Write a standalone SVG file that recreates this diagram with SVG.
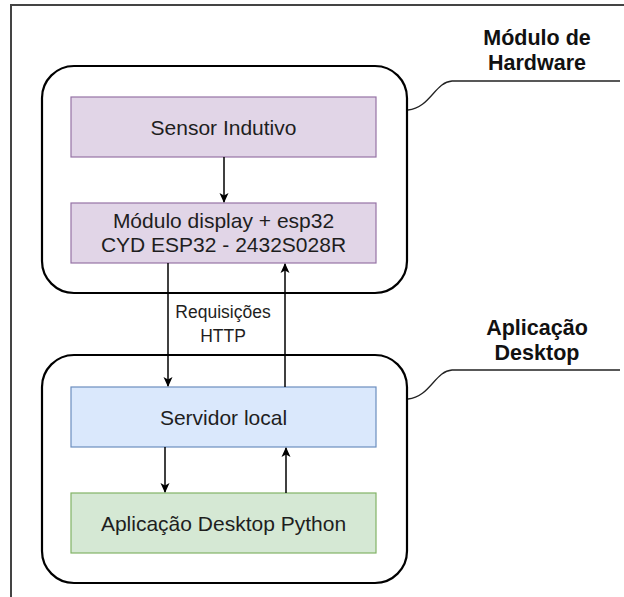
<svg xmlns="http://www.w3.org/2000/svg" width="624" height="597" viewBox="0 0 624 597">
  <defs>
    <marker id="arrow" viewBox="0 0 10 10" refX="9" refY="5" markerWidth="10" markerHeight="10" markerUnits="userSpaceOnUse" orient="auto">
      <path d="M0,0.5 L10,5 L0,9.5 L2.5,5 Z" fill="#000"/>
    </marker>
    <style>
      .frame { fill: none; stroke: #444; stroke-width: 2; }
      .container { fill: #fff; stroke: #000; stroke-width: 2.2; }
      .purple { fill: #e1d5e7; stroke: #9673a6; stroke-width: 1.2; }
      .blue { fill: #dae8fc; stroke: #6c8ebf; stroke-width: 1.2; }
      .green { fill: #d5e8d4; stroke: #82b366; stroke-width: 1.2; }
      .label { font-family: "Liberation Sans", Arial, sans-serif; font-size: 21px; fill: #1e1e1e; text-anchor: middle; }
      .small { font-family: "Liberation Sans", Arial, sans-serif; font-size: 17.5px; fill: #1e1e1e; text-anchor: middle; }
      .title { font-family: "Liberation Sans", Arial, sans-serif; font-size: 21.5px; font-weight: bold; fill: #111; text-anchor: middle; }
      .edge { fill: none; stroke: #000; stroke-width: 1.5; marker-end: url(#arrow); }
      .callout { fill: none; stroke: #222; stroke-width: 1.3; }
    </style>
  </defs>

  <rect width="624" height="597" fill="#fff"/>

  <!-- page frame -->
  <path class="frame" d="M11,597 V5 H624"/>

  <!-- hardware module container -->
  <g id="hardware-module">
    <rect class="container" x="42" y="66" width="365" height="227" rx="32" ry="32"/>
    <path class="callout" d="M408,110 C430,108 435,82 452,81 H620"/>
    <text class="title" x="537" y="45">Módulo de</text>
    <text class="title" x="537" y="70">Hardware</text>
  </g>

  <!-- desktop application container -->
  <g id="desktop-app">
    <rect class="container" x="42" y="355" width="365" height="228" rx="32" ry="32"/>
    <path class="callout" d="M408,399 C430,397 435,371 452,370 H620"/>
    <text class="title" x="537" y="335">Aplicação</text>
    <text class="title" x="537" y="360">Desktop</text>
  </g>

  <g id="sensor">
    <rect class="purple" x="71" y="97" width="305" height="60"/>
    <text class="label" x="223.5" y="134.5">Sensor Indutivo</text>
  </g>

  <g id="display-esp32">
    <rect class="purple" x="71" y="203" width="305" height="60"/>
    <text class="label" x="223.5" y="227.5">Módulo display + esp32</text>
    <text class="label" x="223.5" y="252">CYD ESP32 - 2432S028R</text>
  </g>

  <g id="local-server">
    <rect class="blue" x="71" y="387" width="305" height="60"/>
    <text class="label" x="223.5" y="424.5">Servidor local</text>
  </g>

  <g id="python-app">
    <rect class="green" x="71" y="493" width="305" height="60"/>
    <text class="label" x="223.5" y="530.5">Aplicação Desktop Python</text>
  </g>

  <!-- connectors -->
  <g id="connectors">
    <line class="edge" x1="224" y1="157" x2="224" y2="202"/>
    <line class="edge" x1="168" y1="263" x2="168" y2="386"/>
    <line class="edge" x1="285" y1="387" x2="285" y2="264"/>
    <line class="edge" x1="165" y1="447" x2="165" y2="492"/>
    <line class="edge" x1="286" y1="493" x2="286" y2="448"/>
    <text class="small" x="223" y="318">Requisições</text>
    <text class="small" x="223" y="342">HTTP</text>
  </g>
</svg>
